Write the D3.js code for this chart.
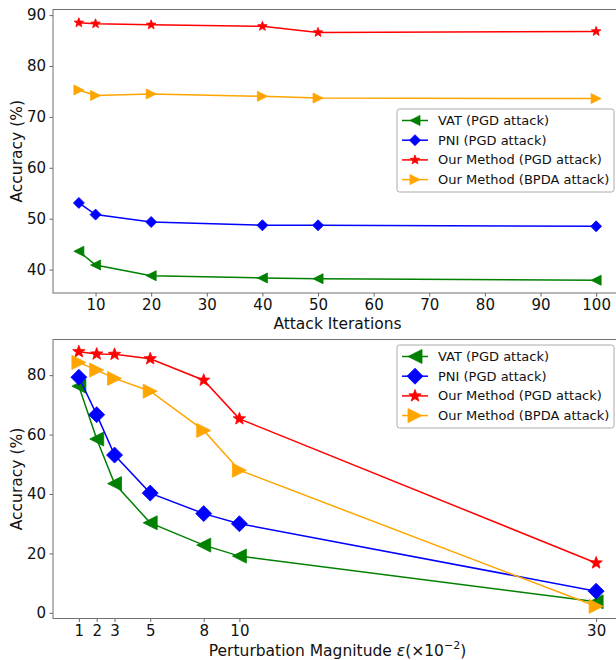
<!DOCTYPE html>
<html><head><meta charset="utf-8">
<script src="https://cdn.jsdelivr.net/npm/d3@7"></script>
<style>
html,body{margin:0;padding:0;background:#fff;overflow:hidden}
text{font-family:"DejaVu Sans",sans-serif;fill:#111}
</style></head>
<body><svg id="c" width="616" height="660"></svg>
<script>
// ---- data ----
const iterX = [7, 10, 20, 40, 50, 100];
const iterVAT = [43.6, 40.9, 38.8, 38.35, 38.2, 37.9];
const iterPNI = [53.1, 50.8, 49.35, 48.7, 48.7, 48.5];
const iterOursPGD = [88.5, 88.3, 88.1, 87.8, 86.6, 86.8];
const iterOursBPDA = [75.3, 74.2, 74.5, 74.05, 73.7, 73.6];
const iterXTicks = [10, 20, 30, 40, 50, 60, 70, 80, 90, 100];
const iterYTicks = [40, 50, 60, 70, 80, 90];

const epsX = [1, 2, 3, 5, 8, 10, 30];
const epsVAT = [76.3, 58.5, 43.5, 30.3, 22.8, 19.1, 3.7];
const epsPNI = [79.3, 66.7, 53.1, 40.3, 33.4, 30.0, 7.3];
const epsOursPGD = [87.9, 87.1, 87.0, 85.5, 78.3, 65.3, 16.8];
const epsOursBPDA = [84.3, 81.7, 78.9, 74.6, 61.4, 48.0, 2.2];
const epsXTicks = [1, 2, 3, 5, 8, 10, 30];
const epsYTicks = [0, 20, 40, 60, 80];

const seriesNames = ["VAT (PGD attack)", "PNI (PGD attack)", "Our Method (PGD attack)", "Our Method (BPDA attack)"];
const seriesColors = ["#008000", "#0000ff", "#ff0000", "#ffa500"];
const seriesMarkers = ["triLeft", "diamond", "star", "triRight"];

// ---- marker shapes ----
function markerPath(type, r) {
  if (type === "triLeft") return `M${-r},0L${r},${-r}L${r},${r}Z`;
  if (type === "triRight") return `M${r},0L${-r},${-r}L${-r},${r}Z`;
  if (type === "diamond") return `M0,${-r}L${r},0L0,${r}L${-r},0Z`;
  if (type === "star") {
    let p = [];
    for (let i = 0; i < 10; i++) {
      const a = -Math.PI / 2 + i * Math.PI / 5;
      const rr = i % 2 === 0 ? r : r * 0.42;
      p.push([rr * Math.cos(a), rr * Math.sin(a)]);
    }
    return "M" + p.map(d => d[0].toFixed(2) + "," + d[1].toFixed(2)).join("L") + "Z";
  }
}

const svg = d3.select("#c");

function panel(cfg) {
  const g = svg.append("g");
  const x = d3.scaleLinear().domain(cfg.xDom).range([cfg.left, cfg.right]);
  const y = d3.scaleLinear().domain(cfg.yDom).range([cfg.bottom, cfg.top]);

  // axes
  const xa = g.append("g").attr("transform", `translate(0,${cfg.bottom})`)
    .call(d3.axisBottom(x).tickValues(cfg.xTicks).tickSize(3.5).tickPadding(3).tickFormat(d3.format("d")));
  const ya = g.append("g").attr("transform", `translate(${cfg.left},0)`)
    .call(d3.axisLeft(y).tickValues(cfg.yTicks).tickSize(3.5).tickPadding(3.5).tickFormat(d3.format("d")));
  [xa, ya].forEach(a => {
    a.select(".domain").remove();
    a.selectAll(".tick line").attr("stroke", "#555").attr("stroke-width", 0.9);
    a.selectAll(".tick text").attr("font-size", 15).attr("font-family", "DejaVu Sans").attr("fill", "#111");
  });
  // frame
  g.append("rect").attr("x", cfg.left).attr("y", cfg.top)
    .attr("width", cfg.right - cfg.left).attr("height", cfg.bottom - cfg.top)
    .attr("fill", "none").attr("stroke", "#707070").attr("stroke-width", 1);

  // series
  cfg.series.forEach((vals, i) => {
    const pts = cfg.xs.map((xv, j) => [x(xv), y(vals[j])]);
    g.append("path").attr("d", d3.line()(pts)).attr("fill", "none")
      .attr("stroke", seriesColors[i]).attr("stroke-width", 1.5);
    g.selectAll(null).data(pts).enter().append("path")
      .attr("transform", d => `translate(${d[0]},${d[1]})`)
      .attr("d", markerPath(seriesMarkers[i], cfg.msize[i]))
      .attr("fill", seriesColors[i]).attr("stroke", seriesColors[i]).attr("stroke-width", 0.8);
  });

  // labels
  const xl = g.append("text").attr("x", (cfg.left + cfg.right) / 2).attr("y", cfg.xLabelY)
    .attr("text-anchor", "middle").attr("font-size", 15.5);
  cfg.xLabel(xl);
  g.append("text").attr("transform", `translate(22,${(cfg.top + cfg.bottom) / 2}) rotate(-90)`)
    .attr("text-anchor", "middle").attr("font-size", 15.5).text("Accuracy (%)");

  // legend
  const L = cfg.legend;
  g.append("rect").attr("x", L.x).attr("y", L.y).attr("width", L.w).attr("height", L.h)
    .attr("rx", 2.5).attr("fill", "#fff").attr("fill-opacity", 0.85)
    .attr("stroke", "#aaa").attr("stroke-width", 1);
  seriesNames.forEach((nm, i) => {
    const cy = L.y + L.first + i * L.step;
    g.append("line").attr("x1", L.x + 5).attr("x2", L.x + 31).attr("y1", cy).attr("y2", cy)
      .attr("stroke", seriesColors[i]).attr("stroke-width", 1.5);
    g.append("path").attr("transform", `translate(${L.x + 18},${cy})`)
      .attr("d", markerPath(seriesMarkers[i], cfg.msize[i]))
      .attr("fill", seriesColors[i]).attr("stroke", seriesColors[i]).attr("stroke-width", 0.8);
    g.append("text").attr("x", L.x + 41).attr("y", cy).attr("dy", "0.35em")
      .attr("font-size", 13).text(nm);
  });
}

panel({
  xDom: [2.35, 104.65], yDom: [35.4, 91.1],
  left: 53, right: 622, top: 9.5, bottom: 293,
  xs: iterX, series: [iterVAT, iterPNI, iterOursPGD, iterOursBPDA],
  xTicks: iterXTicks, yTicks: iterYTicks,
  msize: [5, 5.5, 5, 5],
  xLabelY: 329,
  xLabel: t => t.text("Attack Iterations"),
  legend: { x: 397, y: 109, w: 217, h: 83, first: 11.5, step: 19.7 }
});

panel({
  xDom: [-0.45, 31.45], yDom: [-1.9, 92.0],
  left: 53, right: 622, top: 339.5, bottom: 618.5,
  xs: epsX, series: [epsVAT, epsPNI, epsOursPGD, epsOursBPDA],
  xTicks: epsXTicks, yTicks: epsYTicks,
  msize: [7, 8, 6.5, 7],
  xLabelY: 656,
  xLabel: t => {
    t.append("tspan").text("Perturbation Magnitude ");
    t.append("tspan").attr("font-style", "italic").text("ε");
    t.append("tspan").text("(×10");
    t.append("tspan").attr("font-size", 11).attr("dy", -7).text("−2");
    t.append("tspan").attr("dy", 7).text(")");
  },
  legend: { x: 397, y: 345, w: 217, h: 83, first: 11.5, step: 19.7 }
});
</script></body></html>
